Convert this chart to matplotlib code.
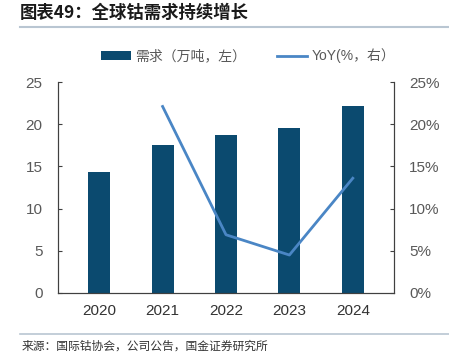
import matplotlib
matplotlib.use("Agg")
import matplotlib.pyplot as plt
from matplotlib.ticker import FuncFormatter

plt.rcParams['font.family'] = ['Liberation Sans', 'Noto Sans CJK SC']

years = ['2020', '2021', '2022', '2023', '2024']
demand = [14.3, 17.5, 18.7, 19.5, 22.2]
yoy_years = ['2021', '2022', '2023', '2024']
yoy = [22.1, 6.9, 4.5, 13.6]

bar_color = '#0b4a6f'
line_color = '#4a86c5'

fig = plt.figure(figsize=(4.49, 3.54), dpi=100)
ax = fig.add_axes([58/449, 1-293/354, (394-58)/449, (293-82)/354])
x = list(range(len(years)))
ax.bar(x, demand, width=0.35, color=bar_color, label='需求（万吨，左）', zorder=2)
ax.set_ylim(0, 25)
ax.set_yticks([0, 5, 10, 15, 20, 25])
ax.set_xlim(-0.65, 4.65)
ax.set_xticks(x)
ax.set_xticklabels(years)

ax2 = ax.twinx()
xi = [years.index(y) for y in yoy_years]
ax2.plot(xi, yoy, color=line_color, lw=2, label='YoY(%，右）', zorder=3)
ax2.set_ylim(0, 25)
ax2.set_yticks([0, 5, 10, 15, 20, 25])
ax2.yaxis.set_major_formatter(FuncFormatter(lambda v, p: f'{v:.0f}%'))

for a in (ax, ax2):
    a.spines['top'].set_visible(False)
    for s in ['left', 'right', 'bottom']:
        a.spines[s].set_color('#404040')
        a.spines[s].set_linewidth(0.8)
    a.tick_params(axis='y', direction='in', length=3, width=0.8, color='#404040',
                  labelsize=11, labelcolor='#595959', pad=11)
    a.tick_params(axis='x', length=0, labelsize=11, labelcolor='#333333', pad=8)

h1, l1 = ax.get_legend_handles_labels()
h2, l2 = ax2.get_legend_handles_labels()
fig.legend(h1 + h2, l1 + l2, loc='center', bbox_to_anchor=(248/449, 1-56/354),
           ncol=2, frameon=False, fontsize=10, handlelength=2.2, handleheight=0.7,
           columnspacing=2.2, handletextpad=0.3, labelcolor='#595959')

fig.text(20/449, 1-13/354, '图表49：全球钴需求持续增长', fontsize=12.5, fontweight='bold',
         color='#1a1a1a', va='center', ha='left',
         family=['Noto Sans CJK SC', 'DejaVu Sans'])
fig.add_artist(plt.Line2D([20/449, 449/449], [1-27/354, 1-27/354], color='#b9c6d2', lw=1.5))
fig.add_artist(plt.Line2D([20/449, 449/449], [1-334/354, 1-334/354], color='#b9c6d2', lw=1.2))
fig.text(22/449, 1-346/354, '来源：国际钴协会，公司公告，国金证券研究所', fontsize=8.5,
         color='#333333', va='center', ha='left',
         family=['Noto Sans CJK SC', 'DejaVu Sans'])

fig.savefig('out.png', dpi=100)
